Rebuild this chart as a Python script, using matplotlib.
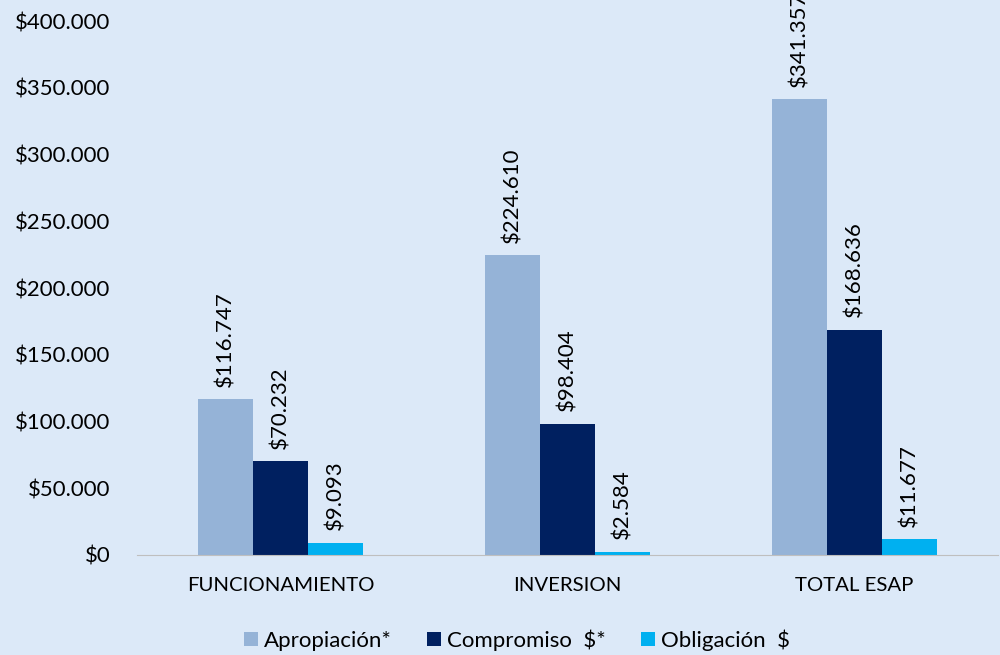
import numpy as np
import matplotlib.pyplot as plt
from matplotlib.ticker import FuncFormatter

categories = ["FUNCIONAMIENTO", "INVERSION", "TOTAL ESAP"]
series = ["Apropiación*", "Compromiso  $*", "Obligación  $"]
apropiacion = [116747, 224610, 341357]
compromiso = [70232, 98404, 168636]
obligacion = [9093, 2584, 11677]
colors = ["#95b3d7", "#002060", "#00b0f0"]

plt.rcParams['font.family'] = ['Lato', 'DejaVu Sans']
bg = "#dce9f8"

fig = plt.figure(figsize=(10, 6.55), dpi=100, facecolor=bg)
ax = fig.add_axes([0.137, 0.1527, 0.861, 0.815], facecolor=bg)

x = np.arange(len(categories))
w = 0.192
for i, (vals, name) in enumerate(zip([apropiacion, compromiso, obligacion], series)):
    pos = x + (i - 1) * w
    ax.bar(pos, vals, w, color=colors[i], label=name)
    for p, v in zip(pos, vals):
        lbl = "$" + f"{v:,}".replace(",", ".")
        ax.annotate(lbl, (p, v), xytext=(0, 9), textcoords="offset points",
                    rotation=90, ha="center", va="bottom", fontsize=16,
                    annotation_clip=False)

ax.set_xlim(-0.5, 2.5)
ax.set_ylim(0, 400000)
ax.set_yticks(np.arange(0, 400001, 50000))
ax.yaxis.set_major_formatter(FuncFormatter(lambda v, p: "$" + f"{int(v):,}".replace(",", ".")))
ax.set_xticks(x)
ax.set_xticklabels(categories)
ax.tick_params(length=0)
ax.tick_params(axis="x", pad=16, labelsize=14.7)
ax.tick_params(axis="y", pad=19, labelsize=16)
for s in ["top", "right", "left"]:
    ax.spines[s].set_visible(False)
ax.spines["bottom"].set_color("#bfbfbf")

fig.legend(loc="center", bbox_to_anchor=(0.517, 0.023), ncol=3, frameon=False,
           fontsize=16, handlelength=0.63, handleheight=0.63, handletextpad=0.27,
           columnspacing=1.6, borderpad=0, borderaxespad=0)

fig.savefig("out.png", dpi=100, facecolor=bg)
